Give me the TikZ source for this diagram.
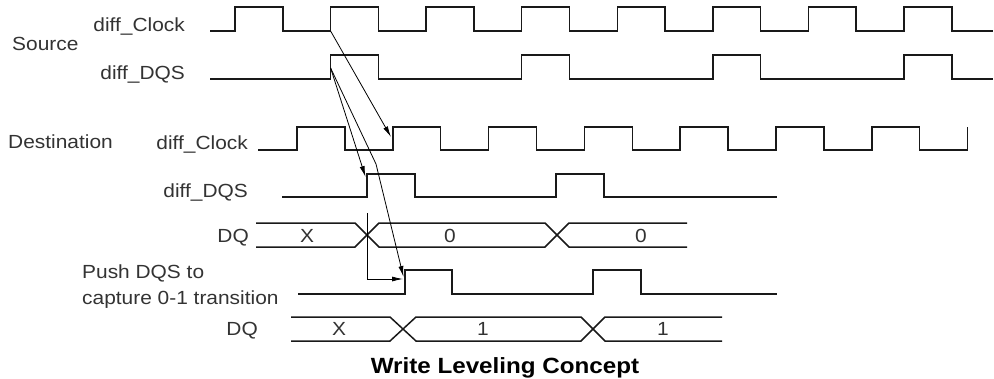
\documentclass[tikz,border=0pt]{standalone}
\usepackage{fontspec}
\setmainfont{Liberation Sans}[FakeStretch=1.1]
\usetikzlibrary{arrows.meta}
\begin{document}
\begin{tikzpicture}[x=1pt, y=-1pt,
    every node/.style={font=\fontsize{19}{26}\selectfont, inner sep=0pt, text=black!80},
    wave/.style={line width=1.5pt, black!90},
    pointer/.style={line width=0.8pt, -{Latex[length=11pt,width=5pt]}}]
    \useasboundingbox (0,0) rectangle (994,378);
    % labels
    \node[anchor=base west] (src) at (12,50) {Source};
    \node[anchor=base east] (srcclklbl) at (185,31.5) {diff\_Clock};
    \node[anchor=base east] (srcdqslbl) at (185,79) {diff\_DQS};
    \node[anchor=base west] (dst) at (8,148) {Destination};
    \node[anchor=base east] (dstclklbl) at (248,149) {diff\_Clock};
    \node[anchor=base east] (dstdqslbl) at (248,197) {diff\_DQS};
    \node[anchor=base east] (dqalbl) at (249,242) {DQ};
    \node[anchor=base west, align=left] (pushlbl) at (82,304) {Push DQS to\\capture 0-1 transition};
    \node[anchor=base east] (dqblbl) at (258,335) {DQ};
    % source clock and strobe
    \draw[wave] (210,31) \foreach \k in {0,...,7} { -- ({235+95.57*\k},31) -- ++(0,-24) -- ++(47.8,0) -- ++(0,24) } -- (993,31);
    \draw[wave] (210,79) \foreach \k in {1,3,5,7} { -- ({235+95.57*\k},79) -- ++(0,-24) -- ++(47.8,0) -- ++(0,24) } -- (993,79);
    % destination clock and strobe
    \draw[wave] (258,150) \foreach \k in {0,...,6} { -- ({297+95.8*\k},150) -- ++(0,-23) -- ++(47.9,0) -- ++(0,23) } -- (967.6,150) -- ++(0,-23);
    \draw[wave] (282,197) -- (367,197) -- (367,174) -- (415,174) -- (415,197) -- (556,197) -- (556,174) -- (604,174) -- (604,197) -- (777,197);
    % DQ bus, first
    \draw[wave] (256,223) -- (355,223) -- (379,247) -- (545,247) -- (569,223) -- (687,223);
    \draw[wave] (256,247) -- (355,247) -- (379,223) -- (545,223) -- (569,247) -- (687,247);
    \node[anchor=base] (dqax) at (307,242) {X};
    \node[anchor=base] (dqaa) at (450,242) {0};
    \node[anchor=base] (dqab) at (641,242) {0};
    % pushed strobe
    \draw[wave] (298,294) -- (405,294) -- (405,270) -- (452,270) -- (452,294) -- (593,294) -- (593,270) -- (641,270) -- (641,294) -- (777,294);
    % DQ bus, second
    \draw[wave] (291,317) -- (390,317) -- (416,341) -- (581,341) -- (605,317) -- (722,317);
    \draw[wave] (291,341) -- (390,341) -- (416,317) -- (581,317) -- (605,341) -- (722,341);
    \node[anchor=base] (dqbx) at (339,335) {X};
    \node[anchor=base] (dqba) at (483,335) {1};
    \node[anchor=base] (dqbb) at (663,335) {1};
    % edge points
    \coordinate (srcclk) at (330.6,31);
    \coordinate (srcdqs) at (330.6,68);
    \coordinate (dstclk) at (391,137);
    \coordinate (dstdqs) at (365.5,177);
    \coordinate (bend) at (376,164);
    \coordinate (pushdqs) at (403.5,277);
    \coordinate (mark) at (367,213);
    \coordinate (markend) at (367,279);
    \coordinate (pushedge) at (403,279);
    \draw[pointer] (srcclk) -- (dstclk);
    \draw[pointer] (srcdqs) -- (dstdqs);
    \draw[pointer] (srcdqs) -- (bend) -- (pushdqs);
    \draw[pointer] (mark) -- (markend) -- (pushedge);
    \node[anchor=base, font=\fontsize{22}{26}\selectfont\bfseries, text=black] (title) at (505,373) {Write Leveling Concept};
\end{tikzpicture}
\end{document}
